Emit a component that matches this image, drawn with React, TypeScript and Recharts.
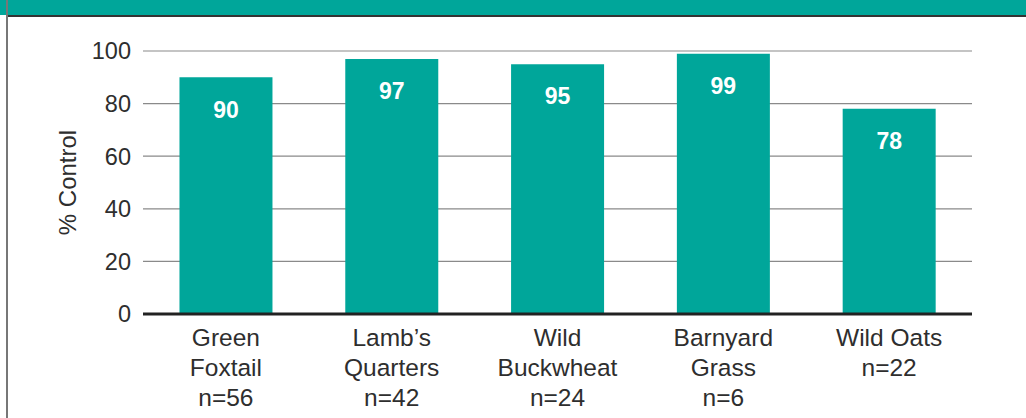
import { BarChart, Bar, XAxis, YAxis, CartesianGrid, LabelList } from 'recharts';

const weeds = ['Green|Foxtail', "Lamb\u2019s|Quarters", 'Wild|Buckwheat', 'Barnyard|Grass', 'Wild Oats'];
const sampleSizes = ['n=56', 'n=42', 'n=24', 'n=6', 'n=22'];
const control = [90, 97, 95, 99, 78];
const yTicks = [0, 20, 40, 60, 80, 100];

const TEAL = '#00a69a';
const TEXT = '#2e2e2e';
const FONT = '"Liberation Sans", Arial, Helvetica, sans-serif';

const data = weeds.map((w, i) => ({
  name: w,
  n: sampleSizes[i],
  value: control[i],
}));

// category name (may wrap on '|') then the sample size underneath
const WeedTick = ({ x, y, payload, index }: any) => {
  const lines = [...String(payload.value).split('|'), sampleSizes[index]];
  return (
    <g transform={`translate(${x},${y})`}>
      {lines.map((line, i) => (
        <text
          key={i}
          x={0}
          y={24 + i * 30}
          textAnchor="middle"
          fontSize={24.5}
          fontFamily={FONT}
          fill={TEXT}
        >
          {line}
        </text>
      ))}
    </g>
  );
};

export default function App() {
  return (
    <div style={{ position: 'absolute', left: 0, top: 0, width: 1026, height: 418, background: '#fff', overflow: 'hidden' }}>
      {/* header band and frame */}
      <div style={{ position: 'absolute', left: 0, top: 0, width: 1026, height: 15, background: TEAL }} />
      <div style={{ position: 'absolute', left: 7, top: 15, width: 1019, height: 2, background: '#333' }} />
      <div style={{ position: 'absolute', left: 6, top: 0, width: 2, height: 418, background: '#777' }} />
      <div style={{ position: 'absolute', left: 0, top: 0 }}>
        <BarChart
          width={1026}
          height={418}
          data={data}
          margin={{ top: 51, right: 54, bottom: 0, left: 0 }}
          barCategoryGap="22%"
        >
          <CartesianGrid vertical={false} stroke="#8a8a8a" strokeWidth={1.2} />
          <XAxis
            dataKey="name"
            axisLine={{ stroke: '#222', strokeWidth: 3 }}
            tickLine={false}
            tick={<WeedTick />}
            interval={0}
            height={104}
          />
          <YAxis
            width={143}
            domain={[0, 100]}
            ticks={yTicks}
            interval={0}
            axisLine={false}
            tickLine={false}
            tickSize={0}
            tickMargin={12}
            tick={{ fontSize: 23.5, fill: TEXT, fontFamily: FONT }}
            label={{
              value: '% Control',
              angle: -90,
              position: 'center',
              dx: -4,
              style: { fontSize: 24, fill: TEXT, fontFamily: FONT },
            }}
          />
          <Bar dataKey="value" fill={TEAL} isAnimationActive={false}>
            <LabelList
              dataKey="value"
              position="insideTop"
              offset={24}
              style={{ fill: '#fff', fontSize: 23, fontWeight: 700, fontFamily: FONT }}
            />
          </Bar>
        </BarChart>
      </div>
    </div>
  );
}
